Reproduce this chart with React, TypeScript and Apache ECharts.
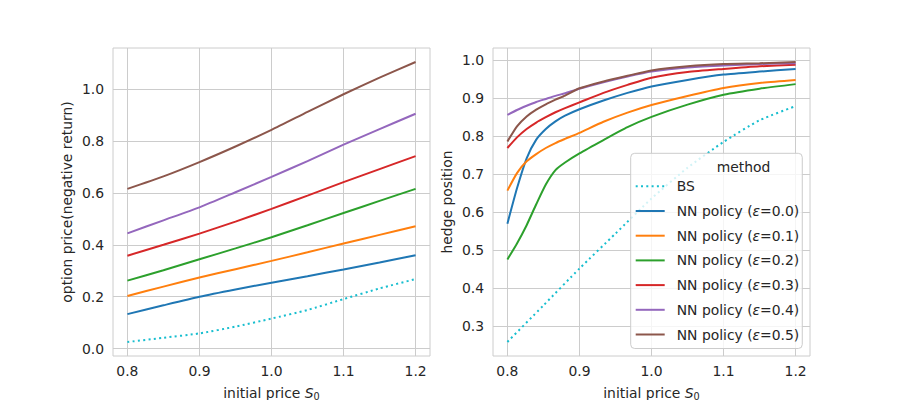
import React, { useEffect, useRef } from "react";
import * as echarts from "echarts";

// ---------- data ----------
const leftX = [0.8, 0.85, 0.9, 0.95, 1.0, 1.05, 1.1, 1.15, 1.2];
const rightX = [0.8, 0.8133, 0.8267, 0.84, 0.8533, 0.8667, 0.88, 0.9, 0.9333, 0.9667, 1.0, 1.05, 1.1, 1.15, 1.2];

const seriesNames = [
  "BS",
  "NN policy (ε=0.0)",
  "NN policy (ε=0.1)",
  "NN policy (ε=0.2)",
  "NN policy (ε=0.3)",
  "NN policy (ε=0.4)",
  "NN policy (ε=0.5)",
];

// left panel: option price (negative return), sampled at leftX
const priceBS = [0.026, 0.042, 0.059, 0.085, 0.116, 0.149, 0.191, 0.232, 0.268];
const priceE0 = [0.133, 0.167, 0.2, 0.228, 0.254, 0.279, 0.305, 0.332, 0.36];
const priceE1 = [0.203, 0.239, 0.274, 0.306, 0.338, 0.371, 0.405, 0.438, 0.471];
const priceE2 = [0.262, 0.302, 0.344, 0.386, 0.429, 0.475, 0.522, 0.569, 0.615];
const priceE3 = [0.358, 0.4, 0.443, 0.489, 0.538, 0.589, 0.641, 0.691, 0.741];
const priceE4 = [0.444, 0.494, 0.544, 0.602, 0.661, 0.722, 0.785, 0.845, 0.904];
const priceE5 = [0.615, 0.663, 0.718, 0.778, 0.842, 0.911, 0.979, 1.043, 1.103];

// right panel: hedge position; BS sampled at leftX, NN at rightX
const hedgeBS = [0.258, 0.354, 0.451, 0.543, 0.635, 0.716, 0.784, 0.841, 0.878];
const hedgeE0 = [0.569, 0.662, 0.741, 0.79, 0.818, 0.838, 0.853, 0.87, 0.893, 0.913, 0.93, 0.947, 0.961, 0.969, 0.976];
const hedgeE1 = [0.656, 0.702, 0.733, 0.752, 0.768, 0.781, 0.792, 0.808, 0.837, 0.861, 0.881, 0.905, 0.926, 0.939, 0.947];
const hedgeE2 = [0.475, 0.517, 0.565, 0.62, 0.672, 0.71, 0.73, 0.754, 0.789, 0.823, 0.85, 0.882, 0.908, 0.924, 0.936];
const hedgeE3 = [0.768, 0.796, 0.818, 0.835, 0.849, 0.862, 0.873, 0.888, 0.913, 0.934, 0.953, 0.968, 0.976, 0.983, 0.987];
const hedgeE4 = [0.855, 0.868, 0.879, 0.889, 0.897, 0.905, 0.912, 0.924, 0.941, 0.956, 0.969, 0.98, 0.985, 0.989, 0.991];
const hedgeE5 = [0.785, 0.825, 0.851, 0.869, 0.883, 0.895, 0.906, 0.925, 0.943, 0.958, 0.972, 0.983, 0.989, 0.991, 0.994];

const xTicks = [0.8, 0.9, 1.0, 1.1, 1.2];
const leftYTicks = [0.0, 0.2, 0.4, 0.6, 0.8, 1.0];
const rightYTicks = [0.3, 0.4, 0.5, 0.6, 0.7, 0.8, 0.9, 1.0];

// ---------- style ----------
const colors = ["#17becf", "#1f77b4", "#ff7f0e", "#2ca02c", "#d62728", "#9467bd", "#8c564b"];
const FONT = "DejaVu Sans";
const FS = 13.9;
const TXT = "#262626";
const GRIDC = "#cccccc";

const pairs = (xs: number[], ys: number[]) => xs.map((x, i) => [x, ys[i]]);

function makeXAxis(gridIndex: number) {
  return {
    type: "value",
    gridIndex,
    min: 0.78,
    max: 1.22,
    axisLine: { show: false },
    axisTick: { show: false, customValues: xTicks },
    axisLabel: {
      customValues: xTicks,
      formatter: (v: number) => v.toFixed(1),
      margin: 8,
      color: TXT,
      fontSize: FS,
      fontFamily: FONT,
    },
    splitLine: { show: true, lineStyle: { color: GRIDC, width: 1 } },
    name: "initial price {i|S}{s|0}",
    nameLocation: "middle",
    nameGap: 29,
    nameTextStyle: {
      color: TXT,
      fontSize: FS,
      fontFamily: FONT,
      rich: {
        i: { fontStyle: "italic", fontSize: FS, fontFamily: FONT, color: TXT },
        s: { fontSize: 9.7, fontFamily: FONT, color: TXT, verticalAlign: "bottom", padding: [6, 0, 0, 0] },
      },
    },
  };
}

function makeYAxis(gridIndex: number, min: number, max: number, ticks: number[], name: string) {
  return {
    type: "value",
    gridIndex,
    min,
    max,
    axisLine: { show: false },
    axisTick: { show: false, customValues: ticks },
    axisLabel: {
      customValues: ticks,
      formatter: (v: number) => v.toFixed(1),
      margin: 9,
      color: TXT,
      fontSize: FS,
      fontFamily: FONT,
    },
    splitLine: { show: true, lineStyle: { color: GRIDC, width: 1 } },
    name,
    nameLocation: "middle",
    nameGap: 39,
    nameTextStyle: { color: TXT, fontSize: FS, fontFamily: FONT },
  };
}

function lineSeries(name: string, color: string, data: number[][], idx: number, dotted: boolean) {
  return {
    type: "line",
    name,
    xAxisIndex: idx,
    yAxisIndex: idx,
    data,
    symbol: "none",
    smooth: 0.2,
    color,
    lineStyle: { color, width: 2, type: dotted ? [2, 3.3] : "solid", cap: "butt" },
    itemStyle: { color },
    emphasis: { disabled: true },
    z: 2,
  };
}

const leftPrices = [priceBS, priceE0, priceE1, priceE2, priceE3, priceE4, priceE5];
const rightNN = [hedgeE0, hedgeE1, hedgeE2, hedgeE3, hedgeE4, hedgeE5];

export default function App() {
  const ref = useRef<HTMLDivElement>(null);
  useEffect(() => {
    document.body.style.margin = "0";
    const chart = echarts.init(ref.current as HTMLDivElement, null, { renderer: "svg" });

    const series: any[] = [];
    leftPrices.forEach((ys, i) => {
      series.push(lineSeries(seriesNames[i], colors[i], pairs(leftX, ys), 0, i === 0));
    });
    series.push(lineSeries(seriesNames[0], colors[0], pairs(leftX, hedgeBS), 1, true));
    rightNN.forEach((ys, i) => {
      series.push(lineSeries(seriesNames[i + 1], colors[i + 1], pairs(rightX, ys), 1, false));
    });

    const gridBase = {
      top: 48,
      bottom: 44,
      show: true,
      borderColor: GRIDC,
      borderWidth: 1,
      backgroundColor: "#ffffff",
      containLabel: false,
      outerBoundsMode: "none",
    };

    const option: any = {
      animation: false,
      backgroundColor: "#ffffff",
      grid: [
        { ...gridBase, left: 113, right: 470 },
        { ...gridBase, left: 493, right: 90 },
      ],
      xAxis: [makeXAxis(0), makeXAxis(1)],
      yAxis: [
        makeYAxis(0, -0.028, 1.157, leftYTicks, "option price(negative return)"),
        makeYAxis(1, 0.221, 1.031, rightYTicks, "hedge position"),
      ],
      legend: {
        orient: "vertical",
        left: 630.7,
        top: 153.3,
        padding: [26, 3, 7, 4],
        itemWidth: 29,
        itemHeight: 14,
        itemGap: 10.7,
        backgroundColor: "rgba(255,255,255,0.8)",
        borderColor: GRIDC,
        borderWidth: 1,
        borderRadius: 4,
        selectedMode: false,
        z: 50,
        itemStyle: { opacity: 0 },
        data: seriesNames,
        formatter: (name: string) => name.replace("ε", "{e|ε}"),
        textStyle: {
          color: TXT,
          fontSize: FS,
          fontFamily: FONT,
          padding: [0, 0, 0, 7],
          rich: {
            e: { fontStyle: "italic", fontSize: FS, fontFamily: FONT, color: TXT },
          },
        },
      },
      graphic: [
        {
          type: "text",
          left: 716.7,
          top: 160,
          z: 100,
          style: {
            text: "method",
            fill: TXT,
            fontSize: FS,
            fontFamily: FONT,
            textAlign: "center",
          },
        },
      ],
      series,
    };
    chart.setOption(option);
    return () => chart.dispose();
  }, []);
  return <div ref={ref} style={{ width: 900, height: 400 }} />;
}
